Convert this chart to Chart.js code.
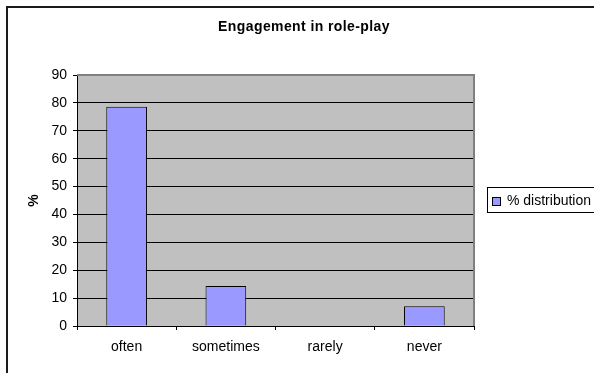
<!DOCTYPE html>
<html>
<head>
<meta charset="utf-8">
<title>Engagement in role-play</title>
<script src="https://cdn.jsdelivr.net/npm/chart.js@4/dist/chart.umd.min.js"></script>
<style>
  body { margin: 0; background: #fff; }
  #chart { display: block; }
</style>
</head>
<body>
<canvas id="chart" width="594" height="373"></canvas>
<script>
// chart data
const categories = ["often", "sometimes", "rarely", "never"];
const distribution = [78.6, 14.3, 0, 7.1];
const seriesLabel = "% distribution";
const chartTitle = "Engagement in role-play";
const yTitle = "%";

const FONT = "Arial, 'Liberation Sans', sans-serif";

// grey plot area, frame, title and the boxed legend on the right
const excelLook = {
    id: "excelLook",
    beforeDraw(chart) {
        const { ctx, chartArea: a } = chart;
        ctx.save();
        ctx.fillStyle = "#fff";
        ctx.fillRect(0, 0, chart.width, chart.height);
        ctx.fillStyle = "#C0C0C0";
        ctx.fillRect(a.left, a.top, a.right - a.left, a.bottom - a.top);
        ctx.restore();
    },
    afterDraw(chart) {
        const { ctx, chartArea: a } = chart;
        ctx.save();
        // plot area frame (top and right)
        ctx.strokeStyle = "#808080";
        ctx.lineWidth = 2;
        ctx.beginPath();
        ctx.moveTo(a.left, a.top);
        ctx.lineTo(a.right, a.top);
        ctx.lineTo(a.right, a.bottom);
        ctx.stroke();

        // outer chart border
        ctx.strokeStyle = "#1a1a1a";
        ctx.lineWidth = 2;
        ctx.strokeRect(7, 7, chart.width + 20, chart.height + 20);

        // title
        ctx.fillStyle = "#000";
        ctx.font = "bold 14px " + FONT;
        ctx.letterSpacing = "0.4px";
        ctx.textAlign = "center";
        ctx.textBaseline = "middle";
        ctx.fillText(chartTitle, 304, 27);
        ctx.letterSpacing = "0px";

        // legend
        const ds = chart.data.datasets[0];
        ctx.fillStyle = "#fff";
        ctx.fillRect(487.5, 187.5, 120, 25);
        ctx.strokeStyle = "#000";
        ctx.lineWidth = 1;
        ctx.strokeRect(487.5, 187.5, 120, 25);
        ctx.fillStyle = ds.backgroundColor;
        ctx.fillRect(492.5, 197.5, 8, 8);
        ctx.strokeRect(492.5, 197.5, 8, 8);
        ctx.fillStyle = "#000";
        ctx.font = "14px " + FONT;
        ctx.textAlign = "left";
        ctx.fillText(ds.label, 507, 201);
        ctx.restore();
    }
};

new Chart(document.getElementById("chart"), {
    type: "bar",
    data: {
        labels: categories,
        datasets: [{
            label: seriesLabel,
            data: distribution,
            backgroundColor: "#9999FF",
            borderColor: "#000",
            borderWidth: 1,
            barPercentage: 0.41,
            categoryPercentage: 1
        }]
    },
    options: {
        responsive: false,
        animation: false,
        layout: { padding: { left: 20, top: 75, right: 120, bottom: 10 } },
        plugins: {
            legend: { display: false },
            title: { display: false },
            tooltip: { enabled: false }
        },
        scales: {
            x: {
                afterFit(scale) { scale.height = 37; },
                grid: {
                    offset: true,
                    drawOnChartArea: false,
                    drawTicks: true,
                    tickLength: 4,
                    color: "#000"
                },
                border: { color: "#000", width: 1 },
                ticks: {
                    color: "#000",
                    padding: 9,
                    font: { family: FONT, size: 14 }
                }
            },
            y: {
                min: 0,
                max: 90,
                afterFit(scale) { scale.width = 57; },
                ticks: {
                    stepSize: 10,
                    color: "#000",
                    padding: 6,
                    font: { family: FONT, size: 14 }
                },
                grid: {
                    color: "#000",
                    lineWidth: 1,
                    tickLength: 4
                },
                border: { color: "#000", width: 1 },
                title: {
                    display: true,
                    text: yTitle,
                    color: "#000",
                    padding: { top: 6, bottom: 0 },
                    font: { family: FONT, size: 14, weight: "bold" }
                }
            }
        }
    },
    plugins: [excelLook]
});
</script>
</body>
</html>
